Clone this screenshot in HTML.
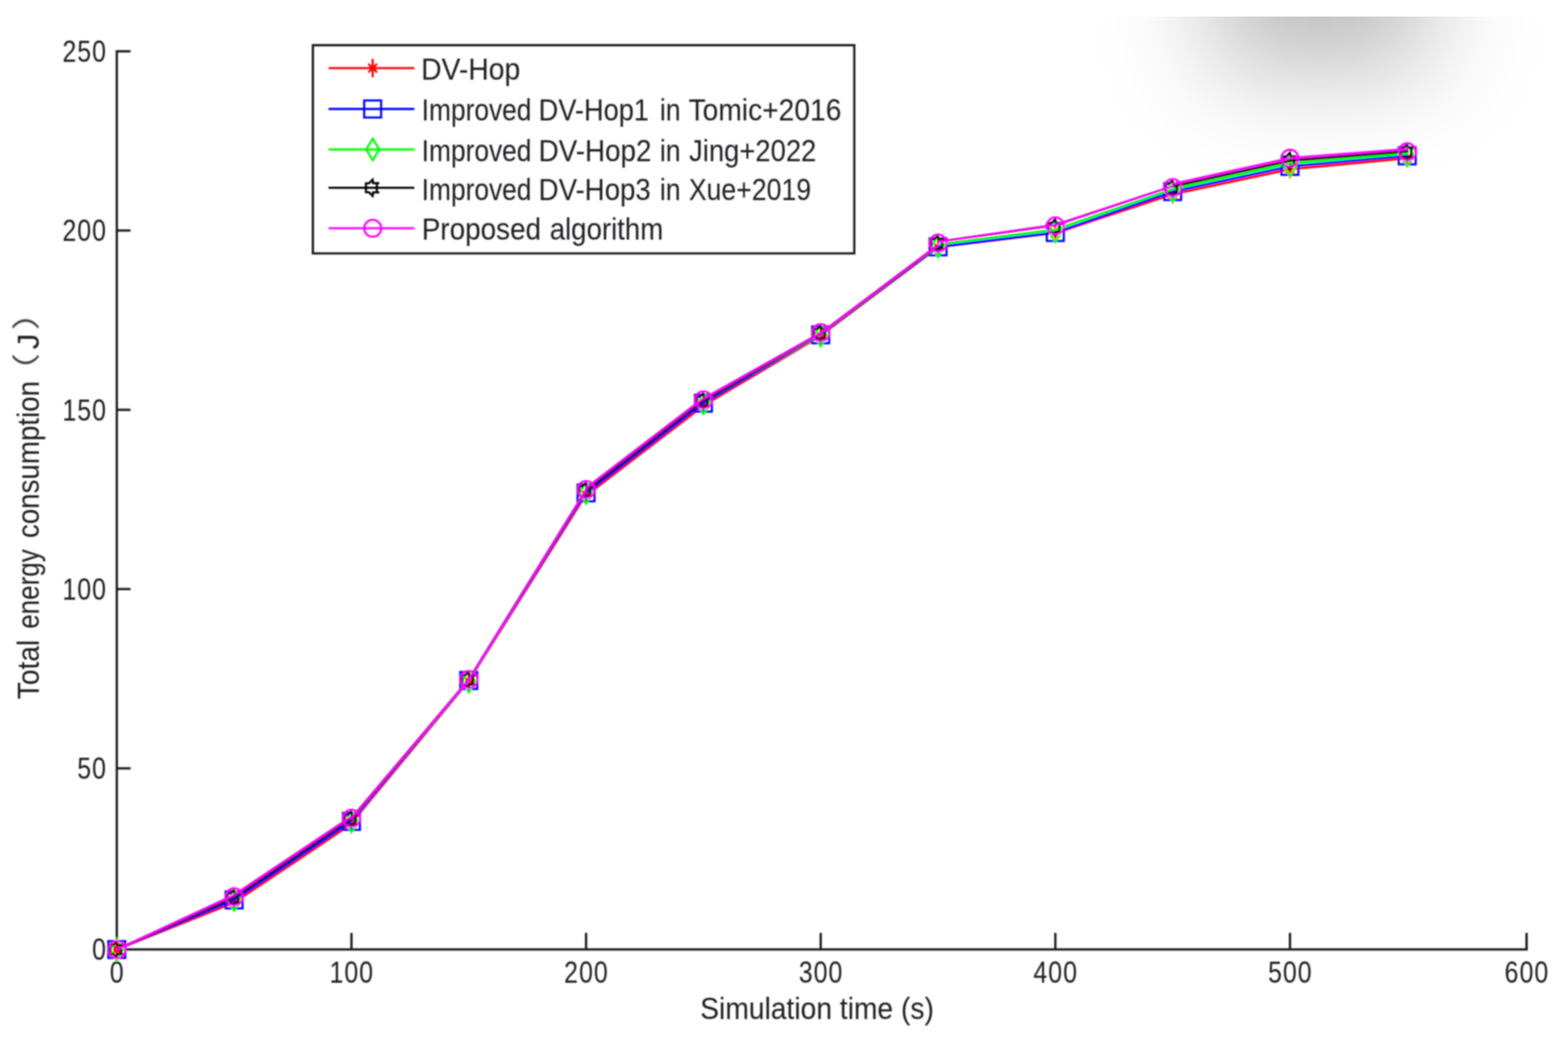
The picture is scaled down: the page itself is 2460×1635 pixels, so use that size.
<!DOCTYPE html>
<html lang="en"><head><meta charset="utf-8">
<title>Total energy consumption vs simulation time</title>
<style>
html,body{margin:0;padding:0;background:#fff}
body{width:2460px;height:1635px;overflow:hidden;position:relative}
#shadeclip{position:absolute;left:1600px;top:26px;width:860px;height:400px;overflow:hidden}
#shade{position:absolute;left:301px;top:-526px;width:340px;height:610px;background:rgba(0,0,0,0.26);filter:blur(80px)}
svg{position:absolute;left:0;top:0;display:block}
text{font-family:"Liberation Sans","Noto Sans CJK SC",sans-serif;font-size:47.5px;fill:#1f1d23}
.cjk{font-family:"Noto Sans CJK SC","Liberation Sans",sans-serif;font-size:44px;fill:#45444a}
.ax{stroke:#151515;stroke-width:3.5;fill:none;stroke-linecap:butt}
.ln{fill:none;stroke-width:3.7;stroke-linejoin:round;stroke-linecap:round}
.lg{fill:none;stroke-width:3.3;stroke-linecap:butt}
.mk{fill:none;stroke-width:3.3}
</style></head>
<body>
<div id="shadeclip"><div id="shade"></div></div>
<svg width="2460" height="1635" viewBox="0 0 2460 1635" role="img" aria-label="Line chart: total energy consumption versus simulation time">
<defs><filter id="soft" x="0" y="0" width="100%" height="100%" filterUnits="userSpaceOnUse"><feGaussianBlur stdDeviation="1.0"/></filter></defs>
<g filter="url(#soft)">
<g class="ax">
<path d="M183.3 78.8 V1489.8 H2396.8"/>
<path d="M183.3 1205.6 H204.8"/>
<path d="M183.3 924.3 H204.8"/>
<path d="M183.3 643.1 H204.8"/>
<path d="M183.3 361.7 H204.8"/>
<path d="M183.3 80.5 H204.8"/>
<path d="M551.4 1489.8 V1463.8"/>
<path d="M919.5 1489.8 V1463.8"/>
<path d="M1287.6 1489.8 V1463.8"/>
<path d="M1655.7 1489.8 V1463.8"/>
<path d="M2023.8 1489.8 V1463.8"/>
<path d="M2395.0 1489.8 V1463.8"/>
</g>
<text transform="translate(144.6 1506.3) scale(0.8 1)" style="font-size:48.8px;letter-spacing:1.98px">0</text>
<text transform="translate(121.3 1222.1) scale(0.8 1)" style="font-size:48.8px;letter-spacing:1.98px">50</text>
<text transform="translate(98.0 940.8) scale(0.8 1)" style="font-size:48.8px;letter-spacing:1.98px">100</text>
<text transform="translate(98.0 659.6) scale(0.8 1)" style="font-size:48.8px;letter-spacing:1.98px">150</text>
<text transform="translate(98.0 378.2) scale(0.8 1)" style="font-size:48.8px;letter-spacing:1.98px">200</text>
<text transform="translate(98.0 97.0) scale(0.8 1)" style="font-size:48.8px;letter-spacing:1.98px">250</text>
<text transform="translate(172.2 1542.1) scale(0.8 1)" style="font-size:48.8px;letter-spacing:1.98px">0</text>
<text transform="translate(517.0 1542.1) scale(0.8 1)" style="font-size:48.8px;letter-spacing:1.98px">100</text>
<text transform="translate(885.1 1542.1) scale(0.8 1)" style="font-size:48.8px;letter-spacing:1.98px">200</text>
<text transform="translate(1253.2 1542.1) scale(0.8 1)" style="font-size:48.8px;letter-spacing:1.98px">300</text>
<text transform="translate(1621.3 1542.1) scale(0.8 1)" style="font-size:48.8px;letter-spacing:1.98px">400</text>
<text transform="translate(1989.4 1542.1) scale(0.8 1)" style="font-size:48.8px;letter-spacing:1.98px">500</text>
<text transform="translate(2360.6 1542.1) scale(0.8 1)" style="font-size:48.8px;letter-spacing:1.98px">600</text>
<text x="1098.5" y="1599.0" textLength="366.7" lengthAdjust="spacingAndGlyphs">Simulation time (s)</text>
<text transform="translate(61.0 1097.0) rotate(-90)"><tspan x="-0.2" y="0" textLength="93.3" lengthAdjust="spacingAndGlyphs">Total</tspan> <tspan x="110.4" y="0" textLength="124.7" lengthAdjust="spacingAndGlyphs">energy</tspan> <tspan x="252.7" y="0" textLength="246.5" lengthAdjust="spacingAndGlyphs">consumption</tspan><tspan class="cjk" x="485.7" y="-4.2" textLength="57.2" lengthAdjust="spacingAndGlyphs">（</tspan><tspan x="548.8" y="0" textLength="25.0" lengthAdjust="spacingAndGlyphs">J</tspan><tspan class="cjk" x="578.7" y="-4.2" textLength="57.2" lengthAdjust="spacingAndGlyphs">）</tspan></text>
<g stroke="#ff0000">
<path class="ln" d="M183.2 1489.9 L367.2 1416.0 M367.2 1416.0 L551.3 1292.8 M551.3 1291.4 L735.4 1068.6 M735.4 1068.6 L919.4 775.8 M919.4 777.4 L1103.5 636.6 M1103.5 636.2 L1287.5 527.0 M1287.5 526.6 L1471.6 388.3 M1471.6 387.4 L1655.6 365.3 M1655.6 365.8 L1839.7 304.6 M1839.7 304.8 L2023.7 265.4 M2023.7 265.4 L2207.8 248.1"/>
<path class="mk" d="M183.2 1475.6 V1504.2 M177.2 1489.9 H189.2 M176.4 1483.1 L190.0 1496.7 M176.4 1496.7 L190.0 1483.1 M367.2 1401.2 V1429.8 M361.2 1415.5 H373.2 M360.5 1408.7 L374.0 1422.3 M360.5 1422.3 L374.0 1408.7 M551.3 1278.0 V1306.6 M545.3 1292.3 H557.3 M544.5 1285.5 L558.1 1299.1 M544.5 1299.1 L558.1 1285.5 M735.4 1054.9 V1083.5 M729.4 1069.2 H741.4 M728.6 1062.4 L742.1 1076.0 M728.6 1076.0 L742.1 1062.4 M919.4 762.6 V791.2 M913.4 776.9 H925.4 M912.6 770.1 L926.2 783.7 M912.6 783.7 L926.2 770.1 M1103.5 621.8 V650.4 M1097.5 636.1 H1109.5 M1096.7 629.3 L1110.2 642.9 M1096.7 642.9 L1110.2 629.3 M1287.5 513.6 V542.2 M1281.5 527.9 H1293.5 M1280.7 521.1 L1294.3 534.7 M1280.7 534.7 L1294.3 521.1 M1471.6 374.1 V402.7 M1465.6 388.4 H1477.6 M1464.8 381.6 L1478.3 395.2 M1464.8 395.2 L1478.3 381.6 M1655.6 352.0 V380.6 M1649.6 366.3 H1661.6 M1648.8 359.5 L1662.4 373.1 M1648.8 373.1 L1662.4 359.5 M1839.7 290.7 V319.3 M1833.7 305.0 H1845.7 M1832.9 298.2 L1846.4 311.8 M1832.9 311.8 L1846.4 298.2 M2023.7 251.2 V279.8 M2017.7 265.5 H2029.7 M2016.9 258.7 L2030.5 272.3 M2016.9 272.3 L2030.5 258.7 M2207.8 234.2 V262.8 M2201.8 248.5 H2213.8 M2201.0 241.7 L2214.5 255.3 M2201.0 255.3 L2214.5 241.7"/>
</g>
<g stroke="#0000ff">
<polyline class="ln" points="183.2,1489.9 367.2,1412.0 551.3,1288.8 735.4,1067.7 919.4,773.4 1103.5,632.6 1287.5,525.4 1471.6,387.4 1655.6,364.8 1839.7,300.6 2023.7,261.0 2207.8,244.5"/>
<path class="mk" d="M169.9 1476.6 h26.6 v26.6 h-26.6 Z M353.9 1398.7 h26.6 v26.6 h-26.6 Z M538.0 1275.5 h26.6 v26.6 h-26.6 Z M722.1 1054.4 h26.6 v26.6 h-26.6 Z M906.1 760.1 h26.6 v26.6 h-26.6 Z M1090.2 619.3 h26.6 v26.6 h-26.6 Z M1274.2 512.1 h26.6 v26.6 h-26.6 Z M1458.3 374.1 h26.6 v26.6 h-26.6 Z M1642.3 351.5 h26.6 v26.6 h-26.6 Z M1826.4 287.3 h26.6 v26.6 h-26.6 Z M2010.4 247.7 h26.6 v26.6 h-26.6 Z M2194.4 231.2 h26.6 v26.6 h-26.6 Z"/>
</g>
<g stroke="#00ff00">
<path class="ln" d="M183.2 1489.9 L367.2 1408.0 M367.2 1408.0 L551.3 1284.8 M551.3 1286.8 L735.4 1067.7 M735.4 1067.7 L919.4 771.4 M919.4 769.4 L1103.5 628.6 M1103.5 629.2 L1287.5 524.8 M1287.5 525.0 L1471.6 386.4 M1471.6 383.4 L1655.6 360.6 M1655.6 360.4 L1839.7 296.6 M1839.7 296.6 L2023.7 256.6 M2023.7 256.6 L2207.8 241.0"/>
<path class="mk" d="M183.2 1473.1 L193.4 1489.9 L183.2 1506.7 L173.0 1489.9 Z M367.2 1395.2 L377.4 1412.0 L367.2 1428.8 L357.1 1412.0 Z M551.3 1272.0 L561.5 1288.8 L551.3 1305.6 L541.1 1288.8 Z M735.4 1052.4 L745.6 1069.2 L735.4 1086.0 L725.2 1069.2 Z M919.4 756.6 L929.6 773.4 L919.4 790.2 L909.2 773.4 Z M1103.5 615.8 L1113.7 632.6 L1103.5 649.4 L1093.2 632.6 Z M1287.5 509.4 L1297.7 526.2 L1287.5 543.0 L1277.3 526.2 Z M1471.6 369.6 L1481.8 386.4 L1471.6 403.2 L1461.4 386.4 Z M1655.6 346.0 L1665.8 362.8 L1655.6 379.6 L1645.4 362.8 Z M1839.7 282.8 L1849.9 299.6 L1839.7 316.4 L1829.5 299.6 Z M2023.7 242.7 L2033.9 259.5 L2023.7 276.3 L2013.5 259.5 Z M2207.8 226.7 L2217.9 243.5 L2207.8 260.3 L2197.6 243.5 Z"/>
</g>
<g stroke="#000000">
<path class="ln" d="M183.2 1489.9 L367.2 1408.0 M367.2 1408.0 L551.3 1284.8 M551.3 1286.2 L735.4 1067.1 M735.4 1067.1 L919.4 771.0 M919.4 769.4 L1103.5 628.6 M1103.5 629.0 L1287.5 524.0 M1287.5 524.2 L1471.6 385.8 M1471.6 379.6 L1655.6 353.2 M1655.6 353.2 L1839.7 292.6 M1839.7 292.6 L2023.7 252.2 M2023.7 252.2 L2207.8 237.5"/>
<path class="mk" d="M183.2 1477.1 L177.7 1482.7 L172.7 1483.1 L172.7 1496.7 L177.7 1497.1 L183.2 1502.7 L184.0 1497.1 L193.7 1497.1 L189.8 1497.1 L189.8 1482.7 L193.7 1482.7 L184.0 1482.7 Z M367.2 1396.2 L361.8 1401.8 L356.8 1402.2 L356.8 1415.8 L361.8 1416.2 L367.2 1421.8 L368.1 1416.2 L377.8 1416.2 L373.9 1416.2 L373.9 1401.8 L377.8 1401.8 L368.1 1401.8 Z M551.3 1273.0 L545.8 1278.6 L540.8 1279.0 L540.8 1292.6 L545.8 1293.0 L551.3 1298.6 L552.1 1293.0 L561.8 1293.0 L557.9 1293.0 L557.9 1278.6 L561.8 1278.6 L552.1 1278.6 Z M735.4 1053.9 L729.9 1059.5 L724.9 1059.9 L724.9 1073.5 L729.9 1073.9 L735.4 1079.5 L736.2 1073.9 L745.9 1073.9 L742.0 1073.9 L742.0 1059.5 L745.9 1059.5 L736.2 1059.5 Z M919.4 757.6 L913.9 763.2 L908.9 763.6 L908.9 777.2 L913.9 777.6 L919.4 783.2 L920.2 777.6 L929.9 777.6 L926.0 777.6 L926.0 763.2 L929.9 763.2 L920.2 763.2 Z M1103.5 616.8 L1098.0 622.4 L1093.0 622.8 L1093.0 636.4 L1098.0 636.8 L1103.5 642.4 L1104.2 636.8 L1114.0 636.8 L1110.0 636.8 L1110.0 622.4 L1114.0 622.4 L1104.2 622.4 Z M1287.5 510.6 L1282.0 516.2 L1277.0 516.6 L1277.0 530.2 L1282.0 530.6 L1287.5 536.2 L1288.3 530.6 L1298.0 530.6 L1294.1 530.6 L1294.1 516.2 L1298.0 516.2 L1288.3 516.2 Z M1471.6 369.6 L1466.1 375.2 L1461.1 375.6 L1461.1 389.2 L1466.1 389.6 L1471.6 395.2 L1472.4 389.6 L1482.1 389.6 L1478.2 389.6 L1478.2 375.2 L1482.1 375.2 L1472.4 375.2 Z M1655.6 344.0 L1650.1 349.6 L1645.1 350.0 L1645.1 363.6 L1650.1 364.0 L1655.6 369.6 L1656.4 364.0 L1666.1 364.0 L1662.2 364.0 L1662.2 349.6 L1666.1 349.6 L1656.4 349.6 Z M1839.7 282.8 L1834.2 288.4 L1829.2 288.8 L1829.2 302.4 L1834.2 302.8 L1839.7 308.4 L1840.5 302.8 L1850.2 302.8 L1846.2 302.8 L1846.2 288.4 L1850.2 288.4 L1840.5 288.4 Z M2023.7 239.7 L2018.2 245.3 L2013.2 245.7 L2013.2 259.3 L2018.2 259.7 L2023.7 265.3 L2024.5 259.7 L2034.2 259.7 L2030.3 259.7 L2030.3 245.3 L2034.2 245.3 L2024.5 245.3 Z M2207.8 226.2 L2202.2 231.8 L2197.2 232.2 L2197.2 245.8 L2202.2 246.2 L2207.8 251.8 L2208.6 246.2 L2218.2 246.2 L2214.3 246.2 L2214.3 231.8 L2218.2 231.8 L2208.6 231.8 Z"/>
</g>
<g stroke="#ff00ff">
<path class="ln" d="M183.2 1489.9 L367.2 1404.4 M367.2 1404.4 L551.3 1281.2 M551.3 1283.8 L735.4 1066.3 M735.4 1066.3 L919.4 768.6 M919.4 765.8 L1103.5 625.0 M1103.5 625.6 L1287.5 522.4 M1287.5 522.8 L1471.6 384.2 M1471.6 379.6 L1655.6 353.0 M1655.6 353.0 L1839.7 292.4 M1839.7 288.8 L2023.7 248.2 M2023.7 248.2 L2207.8 234.1"/>
<path class="mk" d="M169.9 1489.9 a13.3 13.3 0 1 0 26.6 0 a13.3 13.3 0 1 0 -26.6 0 Z M353.9 1407.2 a13.3 13.3 0 1 0 26.6 0 a13.3 13.3 0 1 0 -26.6 0 Z M538.0 1284.0 a13.3 13.3 0 1 0 26.6 0 a13.3 13.3 0 1 0 -26.6 0 Z M722.1 1066.1 a13.3 13.3 0 1 0 26.6 0 a13.3 13.3 0 1 0 -26.6 0 Z M906.1 768.1 a13.3 13.3 0 1 0 26.6 0 a13.3 13.3 0 1 0 -26.6 0 Z M1090.2 627.5 a13.3 13.3 0 1 0 26.6 0 a13.3 13.3 0 1 0 -26.6 0 Z M1274.2 522.0 a13.3 13.3 0 1 0 26.6 0 a13.3 13.3 0 1 0 -26.6 0 Z M1458.3 381.5 a13.3 13.3 0 1 0 26.6 0 a13.3 13.3 0 1 0 -26.6 0 Z M1642.3 354.5 a13.3 13.3 0 1 0 26.6 0 a13.3 13.3 0 1 0 -26.6 0 Z M1826.4 294.5 a13.3 13.3 0 1 0 26.6 0 a13.3 13.3 0 1 0 -26.6 0 Z M2010.4 248.3 a13.3 13.3 0 1 0 26.6 0 a13.3 13.3 0 1 0 -26.6 0 Z M2194.4 238.2 a13.3 13.3 0 1 0 26.6 0 a13.3 13.3 0 1 0 -26.6 0 Z"/>
</g>
<rect x="490.9" y="70.9" width="849.4" height="326.7" fill="none" stroke="#151515" stroke-width="3.4"/>
<g stroke="#ff0000"><path class="lg" d="M515.4 106.9 H650"/><path class="mk" d="M584.6 92.6 V121.2 M578.6 106.9 H590.6 M577.8 100.1 L591.4 113.7 M577.8 113.7 L591.4 100.1"/></g>
<text y="125.3"><tspan x="660.8" textLength="155.4" lengthAdjust="spacingAndGlyphs">DV-Hop</tspan></text>
<g stroke="#0000ff"><path class="lg" d="M515.4 171.0 H650"/><path class="mk" d="M571.3 157.7 h26.6 v26.6 h-26.6 Z"/></g>
<text y="189.3"><tspan x="661.5" textLength="172.3" lengthAdjust="spacingAndGlyphs">Improved</tspan> <tspan x="845.1" textLength="173.0" lengthAdjust="spacingAndGlyphs">DV-Hop1</tspan> <tspan x="1035.2" textLength="32.5" lengthAdjust="spacingAndGlyphs">in</tspan> <tspan x="1080.2" textLength="239.9" lengthAdjust="spacingAndGlyphs">Tomic+2016</tspan></text>
<g stroke="#00ff00"><path class="lg" d="M515.4 234.5 H650"/><path class="mk" d="M584.6 217.7 L594.8 234.5 L584.6 251.3 L574.4 234.5 Z"/></g>
<text y="253.3"><tspan x="661.5" textLength="172.3" lengthAdjust="spacingAndGlyphs">Improved</tspan> <tspan x="845.0" textLength="177.1" lengthAdjust="spacingAndGlyphs">DV-Hop2</tspan> <tspan x="1035.2" textLength="32.5" lengthAdjust="spacingAndGlyphs">in</tspan> <tspan x="1081.1" textLength="199.7" lengthAdjust="spacingAndGlyphs">Jing+2022</tspan></text>
<g stroke="#000000"><path class="lg" d="M515.4 294.6 H650"/><path class="mk" d="M584.6 281.8 L579.1 287.4 L574.1 287.8 L574.1 301.4 L579.1 301.8 L584.6 307.4 L585.4 301.8 L595.1 301.8 L591.2 301.8 L591.2 287.4 L595.1 287.4 L585.4 287.4 Z"/></g>
<text y="313.5"><tspan x="661.5" textLength="172.3" lengthAdjust="spacingAndGlyphs">Improved</tspan> <tspan x="845.1" textLength="175.9" lengthAdjust="spacingAndGlyphs">DV-Hop3</tspan> <tspan x="1035.2" textLength="32.5" lengthAdjust="spacingAndGlyphs">in</tspan> <tspan x="1080.7" textLength="191.8" lengthAdjust="spacingAndGlyphs">Xue+2019</tspan></text>
<g stroke="#ff00ff"><path class="lg" d="M515.4 358.2 H650"/><path class="mk" d="M571.3 358.2 a13.3 13.3 0 1 0 26.6 0 a13.3 13.3 0 1 0 -26.6 0 Z"/></g>
<text y="376.3"><tspan x="661.7" textLength="187.1" lengthAdjust="spacingAndGlyphs">Proposed</tspan> <tspan x="862.4" textLength="178.1" lengthAdjust="spacingAndGlyphs">algorithm</tspan></text>
</g>
</svg>
</body></html>
